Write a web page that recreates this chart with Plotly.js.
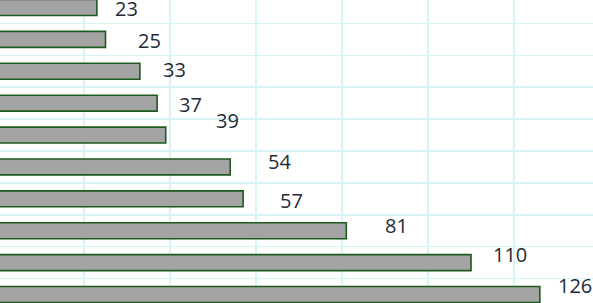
<!DOCTYPE html>
<html>
<head>
<meta charset="utf-8">
<script src="https://cdn.plot.ly/plotly-3.0.1.min.js"></script>
<style>
  html, body { margin: 0; padding: 0; background: #ffffff; }
  #chart { width: 593px; height: 303px; }
</style>
</head>
<body>
<div id="chart"></div>
<script>
// Data, listed top to bottom as drawn
const values = [23, 25, 33, 37, 39, 54, 57, 81, 110, 126];
const labels = ['23', '25', '33', '37', '39', '54', '57', '81', '110', '126'];

// Label offsets (pixels) relative to each bar end / bar centre
const labelDx = [30, 43.5, 34.6, 32.9, 61.8, 49.3, 47.9, 49.7, 39, 35.5];
const labelDy = [-1.5, -1, 1.8, -1.3, 14.5, 5.9, -1.7, 5.2, 8.1, 9];

const n = values.length;
const ypos = values.map((v, i) => n - 1 - i);

const trace = {
  type: 'bar',
  orientation: 'h',
  x: values,
  y: ypos,
  width: 0.5,
  marker: {
    color: '#a4a4a4',
    line: { color: '#1d5a1d', width: 1.6 }
  },
  hoverinfo: 'x'
};

const annotations = values.map((v, i) => ({
  x: v,
  y: ypos[i],
  xref: 'x',
  yref: 'y',
  text: labels[i],
  showarrow: false,
  xanchor: 'center',
  yanchor: 'middle',
  xshift: labelDx[i],
  yshift: labelDy[i],
  font: { family: 'Open Sans, sans-serif', size: 20, color: '#1f2b38' }
}));

const layout = {
  width: 593,
  height: 303,
  margin: { l: 0, r: 0, t: 0, b: 0, pad: 0, autoexpand: false },
  paper_bgcolor: '#ffffff',
  plot_bgcolor: '#ffffff',
  showlegend: false,
  xaxis: {
    range: [0.465, 138.37],
    dtick: 20,
    tick0: 0,
    showgrid: true,
    gridcolor: '#d8f4f4',
    gridwidth: 1.5,
    zeroline: false,
    showticklabels: false,
    ticks: '',
    showline: false,
    automargin: false
  },
  yaxis: {
    range: [-0.2665, 9.235],
    tick0: 0.5,
    dtick: 1,
    showgrid: true,
    gridcolor: '#d8f4f4',
    gridwidth: 1.5,
    zeroline: false,
    showticklabels: false,
    ticks: '',
    showline: false,
    automargin: false
  },
  annotations: annotations
};

Plotly.newPlot('chart', [trace], layout, { displayModeBar: false, staticPlot: true });
</script>
</body>
</html>
